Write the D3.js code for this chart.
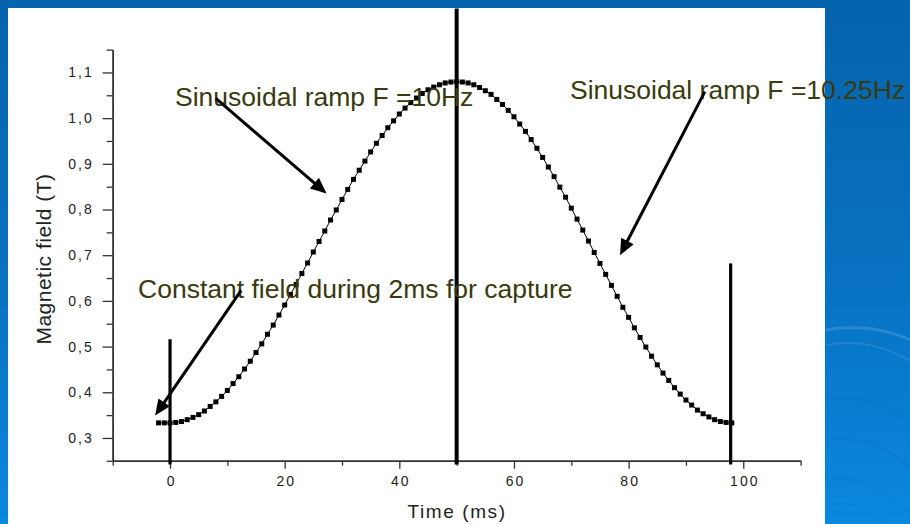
<!DOCTYPE html>
<html><head><meta charset="utf-8">
<script src="https://cdn.jsdelivr.net/npm/d3@7"></script>
<style>html,body{margin:0;padding:0;background:#0a6fbd;} svg{display:block;}</style>
</head><body><svg id="c" width="910" height="524"></svg>
<script>
// ---- data ----
const timeMs = [-2,-1,0,1,2,3,4,5,6,7,8,9,10,11,12,13,14,15,16,17,18,19,20,21,22,23,24,25,26,27,28,29,30,
  31,32,33,34,35,36,37,38,39,40,41,42,43,44,45,46,47,48,49,50,51,52,53,54,55,56,57,58,59,60,61,62,63,64,65,
  66,67,68,69,70,71,72,73,74,75,76,77,78,79,80,81,82,83,84,85,86,87,88,89,90,91,92,93,94,95,96,97,98];
const fieldT = [0.333,0.333,
  0.333,0.334,0.336,0.340,0.345,0.351,0.359,0.369,0.379,0.391,
  0.404,0.419,0.434,0.451,0.468,0.487,0.506,0.527,0.547,0.569,
  0.591,0.614,0.636,0.660,0.683,0.707,0.730,0.753,0.777,0.799,
  0.822,0.844,0.866,0.886,0.906,0.926,0.945,0.962,0.979,0.994,
  1.009,1.022,1.034,1.044,1.054,1.062,1.068,1.073,1.077,1.079,
  1.080,
  1.079,1.077,1.073,1.067,1.060,1.052,1.041,1.030,1.017,1.003,
  0.987,0.971,0.953,0.934,0.914,0.893,0.872,0.849,0.827,0.803,
  0.779,0.755,0.731,0.706,0.682,0.658,0.634,0.610,0.586,0.564,
  0.541,0.520,0.499,0.479,0.460,0.442,0.426,0.410,0.396,0.383,
  0.372,0.361,0.353,0.346,0.340,0.336,0.334,0.333];
const xMajorTicks = [0,20,40,60,80,100];
const xMinorTicks = [-10,10,30,50,70,90,110];
const yMajorTicks = [0.3,0.4,0.5,0.6,0.7,0.8,0.9,1.0,1.1];
const yMinorTicks = [0.25,0.35,0.45,0.55,0.65,0.75,0.85,0.95,1.05,1.15];
const cursorTimes = [0, 50, 97.8];
const cursorTops = [0.516, 1.240, 0.682];
const cursorBottom = 0.242;
const annotationTexts = ["Sinusoidal ramp F =10Hz", "Sinusoidal ramp F =10.25Hz", "Constant field during 2ms for capture"];
const annotationAt = [[0.87,1.0256],[69.77,1.041],[-5.58,0.6055]];
const arrowFrom = [[8.0,1.043],[93.3,1.058],[12.4,0.623]];
const arrowTo = [[27.3,0.835],[78.5,0.700],[-2.6,0.349]];
const xTitle = "Time (ms)";
const yTitle = "Magnetic field (T)";

// ---- drawing ----
const svg = d3.select("#c");
const defs = svg.append("defs");
const bg = defs.append("linearGradient").attr("id","bg").attr("x1",0).attr("y1",0).attr("x2",0).attr("y2",1);
bg.append("stop").attr("offset","0%").attr("stop-color","#0663ad");
bg.append("stop").attr("offset","55%").attr("stop-color","#0872c2");
bg.append("stop").attr("offset","100%").attr("stop-color","#0a88de");
svg.append("rect").attr("width",910).attr("height",524).attr("fill","url(#bg)");
// faint swirl highlights on the right
const sw = svg.append("g").attr("fill","none");
[[330,0.18,3],[345,0.12,2],[400,0.10,2],[440,0.08,3],[480,0.07,2],[505,0.06,2]].forEach(([yy,op,w],i)=>{
  sw.append("path").attr("d",`M826,${yy} Q870,${yy-8} 910,${yy+10+i*6}`)
    .attr("stroke", i<2 ? "#bfe3ff" : "#064f8e").attr("stroke-opacity",op).attr("stroke-width",w);
});
svg.append("rect").attr("x",8).attr("y",8).attr("width",817).attr("height",516).attr("fill","#fff");

const x = d3.scaleLinear().domain([-10,110]).range([112.7,800.6]);
const y = d3.scaleLinear().domain([0.25,1.15]).range([460.8,49.6]);
const axisColor = "#333";

// y axis
const yMin = svg.append("g").attr("transform",`translate(${x(-10)},0)`)
  .call(d3.axisLeft(y).tickValues(yMinorTicks).tickSize(6).tickSizeOuter(0).tickFormat(""));
const yMaj = svg.append("g").attr("transform",`translate(${x(-10)},0)`)
  .call(d3.axisLeft(y).tickValues(yMajorTicks).tickSize(10).tickSizeOuter(0).tickPadding(9)
    .tickFormat(d => d3.format(".1f")(d).replace(".", ",")));
// x axis
const xMin = svg.append("g").attr("transform",`translate(0,${y(0.25)})`)
  .call(d3.axisBottom(x).tickValues(xMinorTicks).tickSize(5).tickSizeOuter(0).tickFormat(""));
const xMaj = svg.append("g").attr("transform",`translate(0,${y(0.25)})`)
  .call(d3.axisBottom(x).tickValues(xMajorTicks).tickSize(8).tickSizeOuter(0).tickPadding(7));
[yMin,yMaj,xMin,xMaj].forEach(g=>{
  g.selectAll("path.domain").attr("stroke",axisColor).attr("stroke-width",1.5);
  g.selectAll(".tick line").attr("stroke",axisColor).attr("stroke-width",1.3);
  g.selectAll(".tick text").attr("fill","#222").attr("font-family","'Liberation Sans', Arial, sans-serif")
    .attr("font-size",14).style("letter-spacing","2px");
});
xMaj.selectAll(".tick text").attr("dx","1px");

// axis titles
svg.append("text").attr("x",457).attr("y",518).attr("text-anchor","middle")
  .attr("font-family","'Liberation Sans', Arial, sans-serif").attr("font-size",19)
  .style("letter-spacing","1.6px").attr("fill","#222").text(xTitle);
svg.append("text").attr("transform",`translate(51,259) rotate(-90)`).attr("text-anchor","middle")
  .attr("font-family","'Liberation Sans', Arial, sans-serif").attr("font-size",21)
  .style("letter-spacing","0.5px").attr("fill","#222").text(yTitle);

// data line + markers
const pts = timeMs.map((t,i)=>[t,fieldT[i]]);
svg.append("path").datum(pts)
  .attr("d", d3.line().x(d=>x(d[0])).y(d=>y(d[1])))
  .attr("fill","none").attr("stroke","#000").attr("stroke-width",1);
svg.append("g").selectAll("rect").data(pts).join("rect")
  .attr("x",d=>x(d[0])-2.5).attr("y",d=>y(d[1])-2.5).attr("width",5).attr("height",5).attr("fill","#000");

// vertical cursor lines
svg.append("g").selectAll("line").data(cursorTimes).join("line")
  .attr("x1",d=>x(d)).attr("x2",d=>x(d))
  .attr("y1",(d,i)=>y(cursorTops[i])).attr("y2",y(cursorBottom))
  .attr("stroke","#000").attr("stroke-width",(d,i)=> i===1 ? 4 : 3.2);

// annotations
svg.append("g").selectAll("text").data(annotationTexts).join("text")
  .attr("x",(d,i)=>x(annotationAt[i][0])).attr("y",(d,i)=>y(annotationAt[i][1]))
  .attr("font-family","'Liberation Sans', Arial, sans-serif").attr("font-size",26.5)
  .attr("fill","#3a3a0e").text(d=>d);

// arrows
const ag = svg.append("g");
arrowFrom.forEach((f,i)=>{
  const x1=x(f[0]), y1=y(f[1]), x2=x(arrowTo[i][0]), y2=y(arrowTo[i][1]);
  const dx=x2-x1, dy=y2-y1, L=Math.hypot(dx,dy), ux=dx/L, uy=dy/L;
  const hl=16, hw=7;
  const bx=x2-ux*hl, by=y2-uy*hl;
  ag.append("line").attr("x1",x1).attr("y1",y1).attr("x2",bx+ux*2).attr("y2",by+uy*2)
    .attr("stroke","#000").attr("stroke-width",3);
  ag.append("path").attr("d",`M${x2},${y2} L${bx-uy*hw},${by+ux*hw} L${bx+uy*hw},${by-ux*hw} Z`).attr("fill","#000");
});
</script></body></html>
